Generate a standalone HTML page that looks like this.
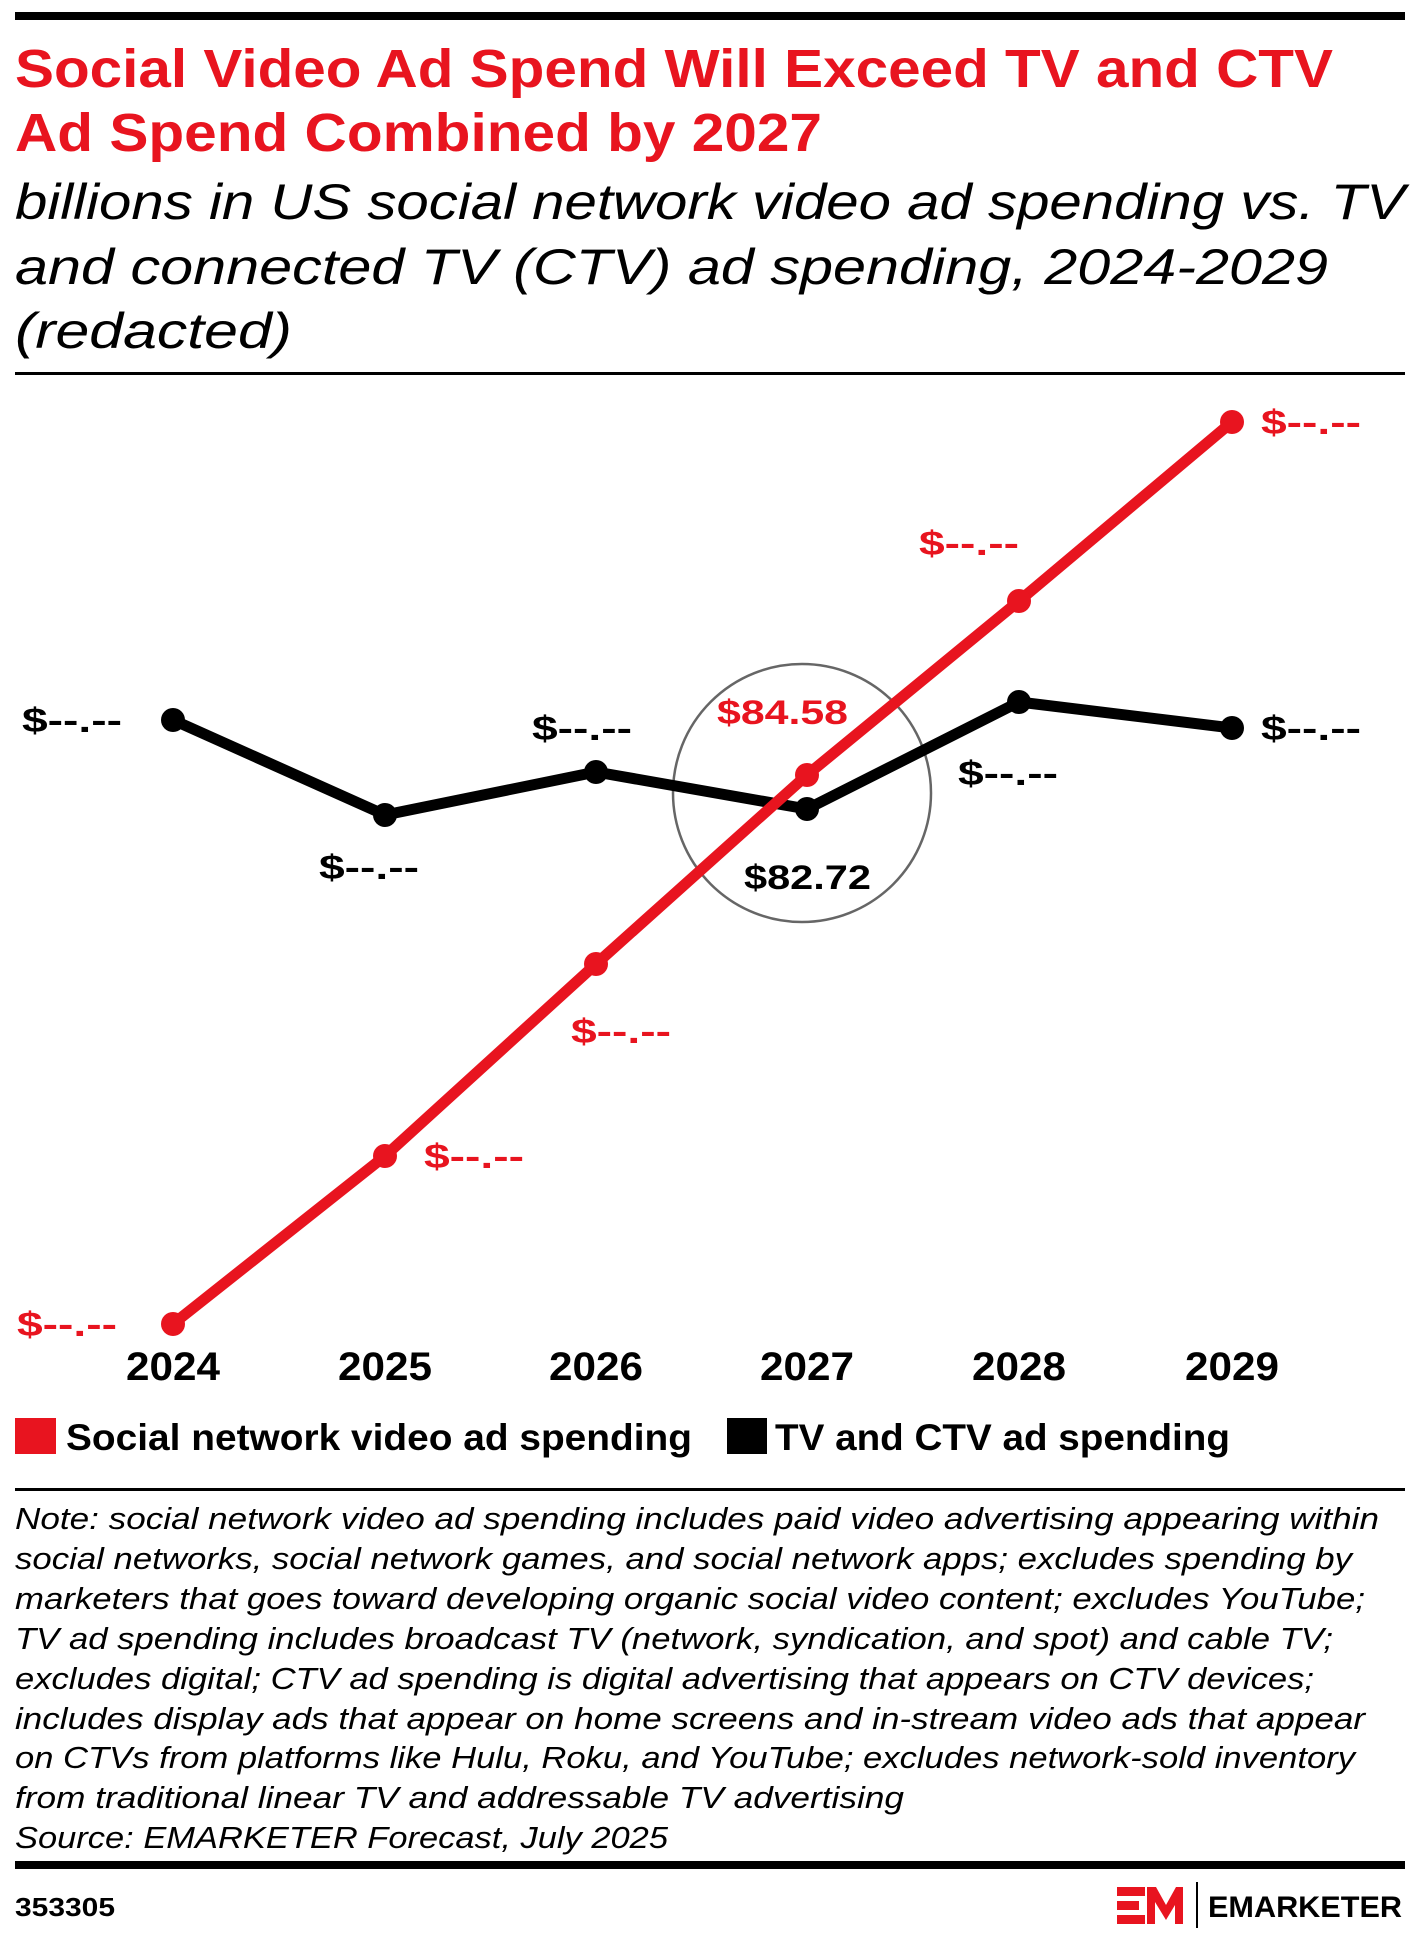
<!DOCTYPE html>
<html><head><meta charset="utf-8"><style>html,body{margin:0;padding:0;background:#fff}svg{display:block}</style></head>
<body>
<svg width="1422" height="1935" viewBox="0 0 1422 1935" xmlns="http://www.w3.org/2000/svg" font-family="'Liberation Sans', sans-serif">
<rect x="15" y="12" width="1390" height="8" fill="#000"/>
<g fill="#e8141f" font-weight="bold" font-size="54">
<text x="15" y="87" textLength="1318" lengthAdjust="spacingAndGlyphs">Social Video Ad Spend Will Exceed TV and CTV</text>
<text x="15" y="151" textLength="807" lengthAdjust="spacingAndGlyphs">Ad Spend Combined by 2027</text>
</g>
<g fill="#000" font-style="italic" font-size="50">
<text x="15" y="219" textLength="1390" lengthAdjust="spacingAndGlyphs">billions in US social network video ad spending vs. TV</text>
<text x="15" y="284" textLength="1313" lengthAdjust="spacingAndGlyphs">and connected TV (CTV) ad spending, 2024-2029</text>
<text x="15" y="348" textLength="277" lengthAdjust="spacingAndGlyphs">(redacted)</text>
</g>
<rect x="15" y="372" width="1390" height="3" fill="#000"/>

<circle cx="802" cy="793" r="129" fill="none" stroke="#666" stroke-width="2.5"/>
<polyline points="173,720 385,815 596,772 807,809 1019,702 1232,728" fill="none" stroke="#000" stroke-width="11" stroke-linejoin="round"/>
<g fill="#000"><circle cx="173" cy="720" r="12"/><circle cx="385" cy="815" r="12"/><circle cx="596" cy="772" r="12"/><circle cx="807" cy="809" r="12"/><circle cx="1019" cy="702" r="12"/><circle cx="1232" cy="728" r="12"/></g>
<polyline points="173,1324 385,1156 596,964 807,775 1019,601 1232,422" fill="none" stroke="#e8141f" stroke-width="11" stroke-linejoin="round"/>
<g fill="#e8141f"><circle cx="173" cy="1324" r="12"/><circle cx="385" cy="1156" r="12"/><circle cx="596" cy="964" r="12"/><circle cx="807" cy="775" r="12"/><circle cx="1019" cy="601" r="12"/><circle cx="1232" cy="422" r="12"/></g>

<g font-weight="bold" font-size="34">
<g fill="#000">
<text x="22" y="732" textLength="100" lengthAdjust="spacingAndGlyphs">$--.--</text>
<text x="319" y="879" textLength="100" lengthAdjust="spacingAndGlyphs">$--.--</text>
<text x="532" y="740" textLength="100" lengthAdjust="spacingAndGlyphs">$--.--</text>
<text x="958" y="785" textLength="100" lengthAdjust="spacingAndGlyphs">$--.--</text>
<text x="1261" y="740" textLength="100" lengthAdjust="spacingAndGlyphs">$--.--</text>
<text x="744" y="889" textLength="127" lengthAdjust="spacingAndGlyphs">$82.72</text>
</g>
<g fill="#e8141f">
<text x="717" y="724" textLength="131" lengthAdjust="spacingAndGlyphs">$84.58</text>
<text x="1261" y="434" textLength="100" lengthAdjust="spacingAndGlyphs">$--.--</text>
<text x="919" y="555" textLength="100" lengthAdjust="spacingAndGlyphs">$--.--</text>
<text x="571" y="1043" textLength="100" lengthAdjust="spacingAndGlyphs">$--.--</text>
<text x="424" y="1168" textLength="100" lengthAdjust="spacingAndGlyphs">$--.--</text>
<text x="17" y="1336" textLength="100" lengthAdjust="spacingAndGlyphs">$--.--</text>
</g>
</g>
<g fill="#000" text-anchor="middle" font-weight="bold" font-size="40">
<text x="173" y="1380" textLength="94" lengthAdjust="spacingAndGlyphs">2024</text><text x="385" y="1380" textLength="94" lengthAdjust="spacingAndGlyphs">2025</text><text x="596" y="1380" textLength="94" lengthAdjust="spacingAndGlyphs">2026</text>
<text x="807" y="1380" textLength="94" lengthAdjust="spacingAndGlyphs">2027</text><text x="1019" y="1380" textLength="94" lengthAdjust="spacingAndGlyphs">2028</text><text x="1232" y="1380" textLength="94" lengthAdjust="spacingAndGlyphs">2029</text>
</g>

<rect x="15" y="1418" width="41" height="36" fill="#e8141f"/>
<rect x="727" y="1418" width="40" height="36" fill="#000"/>
<g font-size="37" font-weight="bold" fill="#000">
<text x="66" y="1450" textLength="626" lengthAdjust="spacingAndGlyphs">Social network video ad spending</text>
<text x="775" y="1450" textLength="455" lengthAdjust="spacingAndGlyphs">TV and CTV ad spending</text>
</g>
<rect x="15" y="1488" width="1390" height="3" fill="#000"/>

<g font-style="italic" font-size="31" fill="#000">
<text x="15" y="1529" textLength="1364" lengthAdjust="spacingAndGlyphs">Note: social network video ad spending includes paid video advertising appearing within</text>
<text x="15" y="1569" textLength="1337" lengthAdjust="spacingAndGlyphs">social networks, social network games, and social network apps; excludes spending by</text>
<text x="15" y="1609" textLength="1350" lengthAdjust="spacingAndGlyphs">marketers that goes toward developing organic social video content; excludes YouTube;</text>
<text x="15" y="1649" textLength="1318" lengthAdjust="spacingAndGlyphs">TV ad spending includes broadcast TV (network, syndication, and spot) and cable TV;</text>
<text x="15" y="1689" textLength="1299" lengthAdjust="spacingAndGlyphs">excludes digital; CTV ad spending is digital advertising that appears on CTV devices;</text>
<text x="15" y="1729" textLength="1350" lengthAdjust="spacingAndGlyphs">includes display ads that appear on home screens and in-stream video ads that appear</text>
<text x="15" y="1768" textLength="1340" lengthAdjust="spacingAndGlyphs">on CTVs from platforms like Hulu, Roku, and YouTube; excludes network-sold inventory</text>
<text x="15" y="1808" textLength="889" lengthAdjust="spacingAndGlyphs">from traditional linear TV and addressable TV advertising</text>
<text x="15" y="1848" textLength="653" lengthAdjust="spacingAndGlyphs">Source: EMARKETER Forecast, July 2025</text>
</g>
<rect x="15" y="1861" width="1390" height="8" fill="#000"/>
<text x="15" y="1916" font-size="26" font-weight="bold" fill="#000" textLength="100" lengthAdjust="spacingAndGlyphs">353305</text>
<g fill="#e8141f">
<rect x="1117" y="1887" width="28" height="9"/><rect x="1117" y="1901" width="22" height="9"/><rect x="1117" y="1915" width="28" height="9"/>
<polygon points="1147,1887 1156,1887 1166,1905 1176,1887 1183,1887 1183,1924 1175,1924 1175,1905 1166,1920 1155,1902 1155,1924 1147,1924"/>
</g>
<rect x="1196" y="1882" width="2" height="46" fill="#000"/>
<text x="1208" y="1917" font-size="30" font-weight="bold" fill="#000" textLength="194" lengthAdjust="spacingAndGlyphs">EMARKETER</text>
</svg>
</body></html>
